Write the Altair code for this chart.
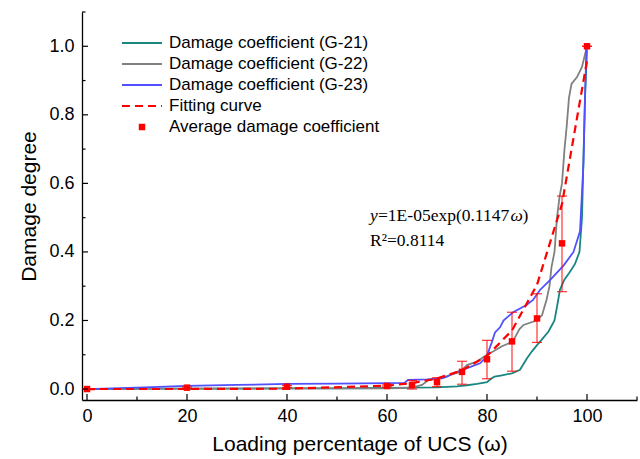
import altair as alt
import pandas as pd

# ---- damage coefficient traces (loading percentage of UCS, damage) ----
g21_x = [0, 10, 20, 30, 40, 50, 60, 65, 70, 74, 76, 78, 80, 80.8, 81.5, 83, 85, 86.6,
         88, 89, 90, 91, 92.3, 93.5, 94.0, 94.6, 95.5, 96.5, 97.6, 98.5, 99.0, 99.3,
         99.6, 99.8, 100]
g21_y = [0, 0.001, 0.001, 0.001, 0.002, 0.002, 0.003, 0.004, 0.005, 0.008, 0.011,
         0.015, 0.02, 0.03, 0.036, 0.04, 0.046, 0.056, 0.09, 0.11, 0.128, 0.145, 0.168,
         0.2, 0.24, 0.29, 0.32, 0.34, 0.365, 0.40, 0.50, 0.68, 0.85, 0.92, 0.99]

g22_x = [0, 20, 40, 60, 63, 65, 67, 68.3, 70.5, 72, 74.6, 76, 78, 80, 81.3, 83, 84.6,
         85.5, 86.5, 87.3, 89.9, 91.0, 91.9, 92.5, 92.9, 93.5, 94.0, 94.5, 95.0, 95.5,
         95.9, 96.4, 96.9, 98.0, 99.0, 99.5, 100]
g22_y = [0, 0.001, 0.002, 0.002, 0.003, 0.004, 0.012, 0.026, 0.032, 0.038, 0.05, 0.07,
         0.08, 0.1, 0.11, 0.125, 0.135, 0.148, 0.175, 0.187, 0.2, 0.215, 0.26, 0.30,
         0.356, 0.40, 0.50, 0.56, 0.60, 0.70, 0.76, 0.85, 0.89, 0.91, 0.94, 0.97, 1.0]

g23_x = [0, 10, 20, 30, 40, 50, 60, 63.5, 64.2, 68, 71, 72, 73.3, 75.9, 78.6, 79.9,
         80.9, 81.6, 82.6, 83.3, 85.3, 87.9, 89.2, 90.6, 92.6, 95.3, 97.3, 98.6, 99.3,
         99.6, 99.9]
g23_y = [0, 0.004, 0.009, 0.012, 0.015, 0.016, 0.017, 0.018, 0.027, 0.028, 0.031, 0.036,
         0.046, 0.06, 0.075, 0.094, 0.134, 0.165, 0.18, 0.2, 0.225, 0.245, 0.26, 0.289,
         0.318, 0.36, 0.40, 0.46, 0.66, 0.85, 1.0]

# ---- average damage coefficient with its spread ----
avg_x = [0, 20, 40, 60, 65, 70, 75, 80, 85, 90, 95, 100]
avg_y = [0.0, 0.004, 0.007, 0.009, 0.012, 0.02, 0.05, 0.087, 0.139, 0.206, 0.425, 1.0]
avg_lo = [0.0, 0.002, 0.004, 0.006, 0.0, 0.007, 0.014, 0.030, 0.052, 0.136, 0.284, 1.0]
avg_hi = [0.0, 0.006, 0.010, 0.012, 0.025, 0.033, 0.081, 0.142, 0.224, 0.278, 0.563, 1.0]

# ---- fitted curve y = 1E-05 exp(0.1147 w) ----
fit_x = [0, 20, 40, 60, 65, 70, 75, 80, 85, 90, 95, 100]
fit_y = [0.00001, 0.0001, 0.00098, 0.0097, 0.0173, 0.0307, 0.0544, 0.0966, 0.171,
         0.304, 0.540, 0.958]

# ---- axis ticks ----
x_major = [0, 20, 40, 60, 80, 100]
x_minor = [10, 30, 50, 70, 90, 110]
y_major = [0.0, 0.2, 0.4, 0.6, 0.8, 1.0]
y_minor = [0.1, 0.3, 0.5, 0.7, 0.9, 1.1]

legend_labels = ["Damage coefficient (G-21)", "Damage coefficient (G-22)",
                 "Damage coefficient (G-23)", "Fitting curve",
                 "Average damage coefficient"]

TEAL = "#1a8680"
GRAY = "#808080"
BLUE = "#5050ff"
RED = "#ff0000"
SANS = "Liberation Sans"
SERIF = "Liberation Serif"

W, H = 555, 388

xs = alt.Scale(domain=[-1, 110], nice=False, zero=False)
ys = alt.Scale(domain=[-0.032, 1.1], nice=False, zero=False)
xaxis = alt.Axis(values=x_major, title="Loading percentage of UCS (ω)", ticks=False,
                 grid=False, labelPadding=7, titlePadding=8, format="d")
yaxis = alt.Axis(values=y_major, title="Damage degree", ticks=False, grid=False,
                 labelPadding=8, titlePadding=9, format=".1f")


def X(field):
    return alt.X(f"{field}:Q", scale=xs, axis=xaxis)


def Y(field):
    return alt.Y(f"{field}:Q", scale=ys, axis=yaxis)


def trace(xv, yv, color, width=1.8, dash=None):
    df = pd.DataFrame({"x": xv, "y": yv, "o": range(len(xv))})
    kw = dict(color=color, strokeWidth=width, clip=True)
    if dash:
        kw["strokeDash"] = dash
    return alt.Chart(df).mark_line(**kw).encode(x=X("x"), y=Y("y"), order="o:Q")


avg_df = pd.DataFrame({"x": avg_x, "y": avg_y, "lo": avg_lo, "hi": avg_hi})

layers = [
    trace(g21_x, g21_y, TEAL),
    trace(g22_x, g22_y, GRAY),
    trace(g23_x, g23_y, BLUE),
    trace(fit_x, fit_y, RED, width=2.2, dash=[8, 5]),
    alt.Chart(avg_df).mark_rule(color=RED, strokeWidth=1.2, opacity=0.8).encode(
        x=X("x"), y=Y("lo"), y2="hi:Q"),
    alt.Chart(avg_df).mark_tick(color=RED, orient="horizontal", size=10, thickness=1.2,
                                opacity=0.8).encode(x=X("x"), y=Y("lo")),
    alt.Chart(avg_df).mark_tick(color=RED, orient="horizontal", size=10, thickness=1.2,
                                opacity=0.8).encode(x=X("x"), y=Y("hi")),
    alt.Chart(avg_df).mark_square(color=RED, size=42, opacity=1).encode(
        x=X("x"), y=Y("y")),
]

# inward-pointing tick marks on both axes
for vals, length in ((x_major, 6), (x_minor, 3.5)):
    layers.append(alt.Chart(pd.DataFrame({"v": vals})).mark_rule(
        color="black", strokeWidth=1.2).encode(
        x=X("v"), y=alt.value(H), y2=alt.value(H - length)))
for vals, length in ((y_major, 6), (y_minor, 3.5)):
    layers.append(alt.Chart(pd.DataFrame({"v": vals})).mark_rule(
        color="black", strokeWidth=1.2).encode(
        y=Y("v"), x=alt.value(0), x2=alt.value(length)))

# legend block
sym_x0, sym_x1, txt_x = 40, 80, 87
line_styles = [(TEAL, None), (GRAY, None), (BLUE, None), (RED, [8, 5])]
for i, label in enumerate(legend_labels):
    ry = 31 + 21 * i
    one = pd.DataFrame({"t": [label]})
    if i < len(line_styles):
        color, dash = line_styles[i]
        kw = dict(color=color, strokeWidth=2 if dash else 1.8)
        if dash:
            kw["strokeDash"] = dash
        layers.append(alt.Chart(one).mark_rule(**kw).encode(
            x=alt.value(sym_x0), x2=alt.value(sym_x1), y=alt.value(ry)))
    else:
        layers.append(alt.Chart(one).mark_square(color=RED, size=42, opacity=1).encode(
            x=alt.value((sym_x0 + sym_x1) / 2), y=alt.value(ry)))
    layers.append(alt.Chart(one).mark_text(
        align="left", baseline="middle", font=SANS, fontSize=17, color="black").encode(
        x=alt.value(txt_x), y=alt.value(ry), text="t:N"))

# fitted equation annotation
eq_x, eq_y1, eq_y2 = 56.6, 0.505, 0.432
eq_parts = [("y", "italic", 0), ("=1E-05exp(0.1147", "normal", 8),
            ("ω", "italic", 140.5), (")", "normal", 152.5)]
for txt, style, dx in eq_parts:
    layers.append(alt.Chart(pd.DataFrame({"x": [eq_x], "y": [eq_y1], "t": [txt]})).mark_text(
        align="left", baseline="middle", font=SERIF, fontSize=17.5, fontStyle=style,
        dx=dx, color="black").encode(x=X("x"), y=Y("y"), text="t:N"))
layers.append(alt.Chart(pd.DataFrame({"x": [eq_x], "y": [eq_y2], "t": ["R²=0.8114"]})).mark_text(
    align="left", baseline="middle", font=SERIF, fontSize=17.5, color="black").encode(
    x=X("x"), y=Y("y"), text="t:N"))

chart = alt.layer(*layers).properties(
    width=W, height=H,
    autosize=alt.AutoSizeParams(type="none"),
    padding={"left": 82, "top": 12, "right": 3, "bottom": 59},
).configure_view(stroke=None).configure_axis(
    domainColor="black", domainWidth=1.3, labelFont=SANS, labelFontSize=18,
    labelColor="black", titleFont=SANS, titleFontSize=21, titleFontWeight="normal",
    titleColor="black",
)

chart.save("out.html", embed_options={"renderer": "svg", "actions": False})
